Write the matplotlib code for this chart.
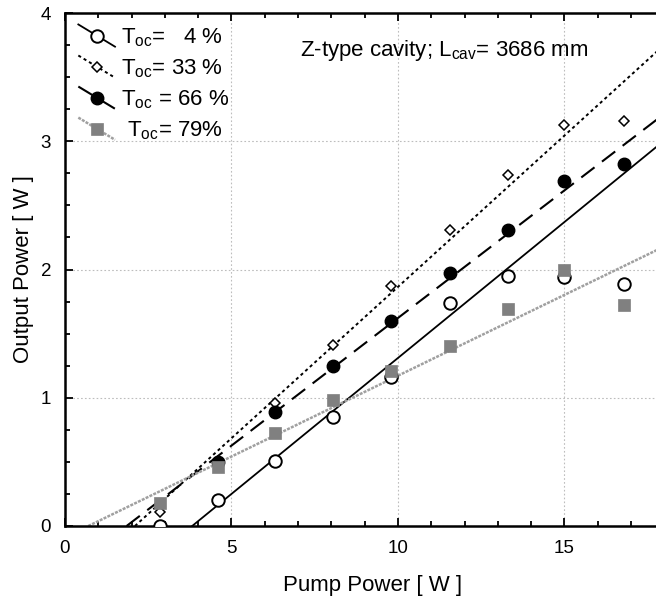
#!/usr/bin/env python
# output power vs pump power for four output couplers, with linear fits
import numpy as np
import matplotlib
matplotlib.use('Agg')
import matplotlib.pyplot as plt
from matplotlib.lines import Line2D
from matplotlib.legend_handler import HandlerBase

plt.rcParams['font.family'] = ['Liberation Sans', 'DejaVu Sans']
plt.rcParams['mathtext.fontset'] = 'custom'
plt.rcParams['mathtext.rm'] = 'Liberation Sans'
plt.rcParams['mathtext.it'] = 'Liberation Sans:italic'

output_file = 'out.png'

# pump power [W]
pump = [2.85, 4.6, 6.3, 8.05, 9.8, 11.55, 13.3, 15.0, 16.8]
pump_66 = [4.6, 6.3, 8.05, 9.8, 11.55, 13.3, 15.0, 16.8]

# output power [W]
out_04 = [0.0, 0.20, 0.51, 0.85, 1.16, 1.74, 1.95, 1.94, 1.89]
out_33 = [0.11, 0.50, 0.96, 1.41, 1.87, 2.31, 2.74, 3.13, 3.16]
out_66 = [0.50, 0.89, 1.25, 1.60, 1.975, 2.31, 2.69, 2.82]
out_79 = [0.18, 0.46, 0.725, 0.98, 1.21, 1.40, 1.69, 2.00, 1.72]

# linear fits: slope efficiency and threshold [W]
fit_slope = [0.212, 0.236, 0.199, 0.126]
fit_thresh = [3.82, 2.1, 1.85, 0.7]

labels = [r'T$_{\mathrm{oc}}$=   4 %', r'T$_{\mathrm{oc}}$= 33 %',
          r'T$_{\mathrm{oc}}$ = 66 %', r' T$_{\mathrm{oc}}$= 79%']

xmax = 17.75


class SlantHandler(HandlerBase):
    # legend handle drawn as a slanted line with the marker in the middle
    def create_artists(self, legend, orig, xd, yd, width, height, fontsize, trans):
        x0, x1 = -xd, -xd + width
        yc = -yd + height / 2.
        ln = Line2D([x0, x1], [yc + 8, yc - 8])
        ln.update_from(orig)
        ln.set_marker('None')
        ln.set_transform(trans)
        mk = Line2D([x0 + 0.52 * (x1 - x0)], [yc - 0.5])
        mk.update_from(orig)
        mk.set_linestyle('None')
        mk.set_transform(trans)
        return [ln, mk]


fig = plt.figure(figsize=(6.56, 6.0), dpi=100)
ax = fig.add_axes([65 / 656., 74 / 600., 591 / 656., 513 / 600.])

styles = [
    dict(color='k', lw=1.3, ls='-'),
    dict(color='k', lw=1.4, ls=(0, (1.6, 1.6))),
    dict(color='k', lw=1.5, ls=(0, (8, 4.5))),
    dict(color='#a0a0a0', lw=1.8, ls=(0, (1.2, 0.5))),
]
marks = [
    dict(marker='o', ms=9, mfc='white', mec='k', mew=1.4),
    dict(marker='D', ms=5, mfc='white', mec='k', mew=1.1),
    dict(marker='o', ms=9, mfc='k', mec='k', mew=1),
    dict(marker='s', ms=8, mfc='#808080', mec='#808080', mew=0.5),
]

xs = [pump, pump, pump_66, pump]
ys = [out_04, out_33, out_66, out_79]

for i in range(4):
    xf = np.array([fit_thresh[i], 20.])
    ax.plot(xf, fit_slope[i] * (xf - fit_thresh[i]), zorder=2, **styles[i])
for i in range(4):
    ax.plot(xs[i], ys[i], ls='None', zorder=3, **marks[i])

handles = [Line2D([], [], **styles[i], **marks[i]) for i in range(4)]
legend = ax.legend(handles, labels, loc='upper left', bbox_to_anchor=(0.0, 1.0),
                   frameon=False, fontsize=16, handlelength=1.65,
                   handletextpad=0.27, labelspacing=0.38, borderaxespad=0.2,
                   handler_map={Line2D: SlantHandler()})

ax.text(7.05, 3.71, r'Z-type cavity; L$_{\mathrm{cav}}$= 3686 mm', fontsize=16,
        va='center', ha='left')

ax.set_xlim(0, xmax)
ax.set_ylim(0, 4)
ax.set_xticks([0, 5, 10, 15])
ax.set_xticks(np.arange(0, 18, 1), minor=True)
ax.set_yticks([0, 1, 2, 3, 4])
ax.set_yticks(np.arange(0, 4.01, 0.25), minor=True)
ax.grid(True, which='major', ls=(0, (1.5, 2)), color='#bdbdbd', lw=0.8)
ax.set_axisbelow(True)
ax.tick_params(which='both', direction='in', top=True, right=False,
               labelsize=13.5, width=1.3)
ax.tick_params(which='major', length=6, pad=10)
ax.tick_params(which='minor', length=3.5)
for side in ['top', 'bottom', 'left']:
    ax.spines[side].set_linewidth(1.8)
ax.spines['right'].set_visible(False)

ax.set_xlabel('Pump Power [ W ]', fontsize=16)
ax.set_ylabel('Output Power [ W ]', fontsize=16)
ax.xaxis.set_label_coords(0.52, -0.095)
ax.yaxis.set_label_coords(-0.052, 0.50)

plt.savefig(output_file, dpi=100)
print('Saved to', output_file)
